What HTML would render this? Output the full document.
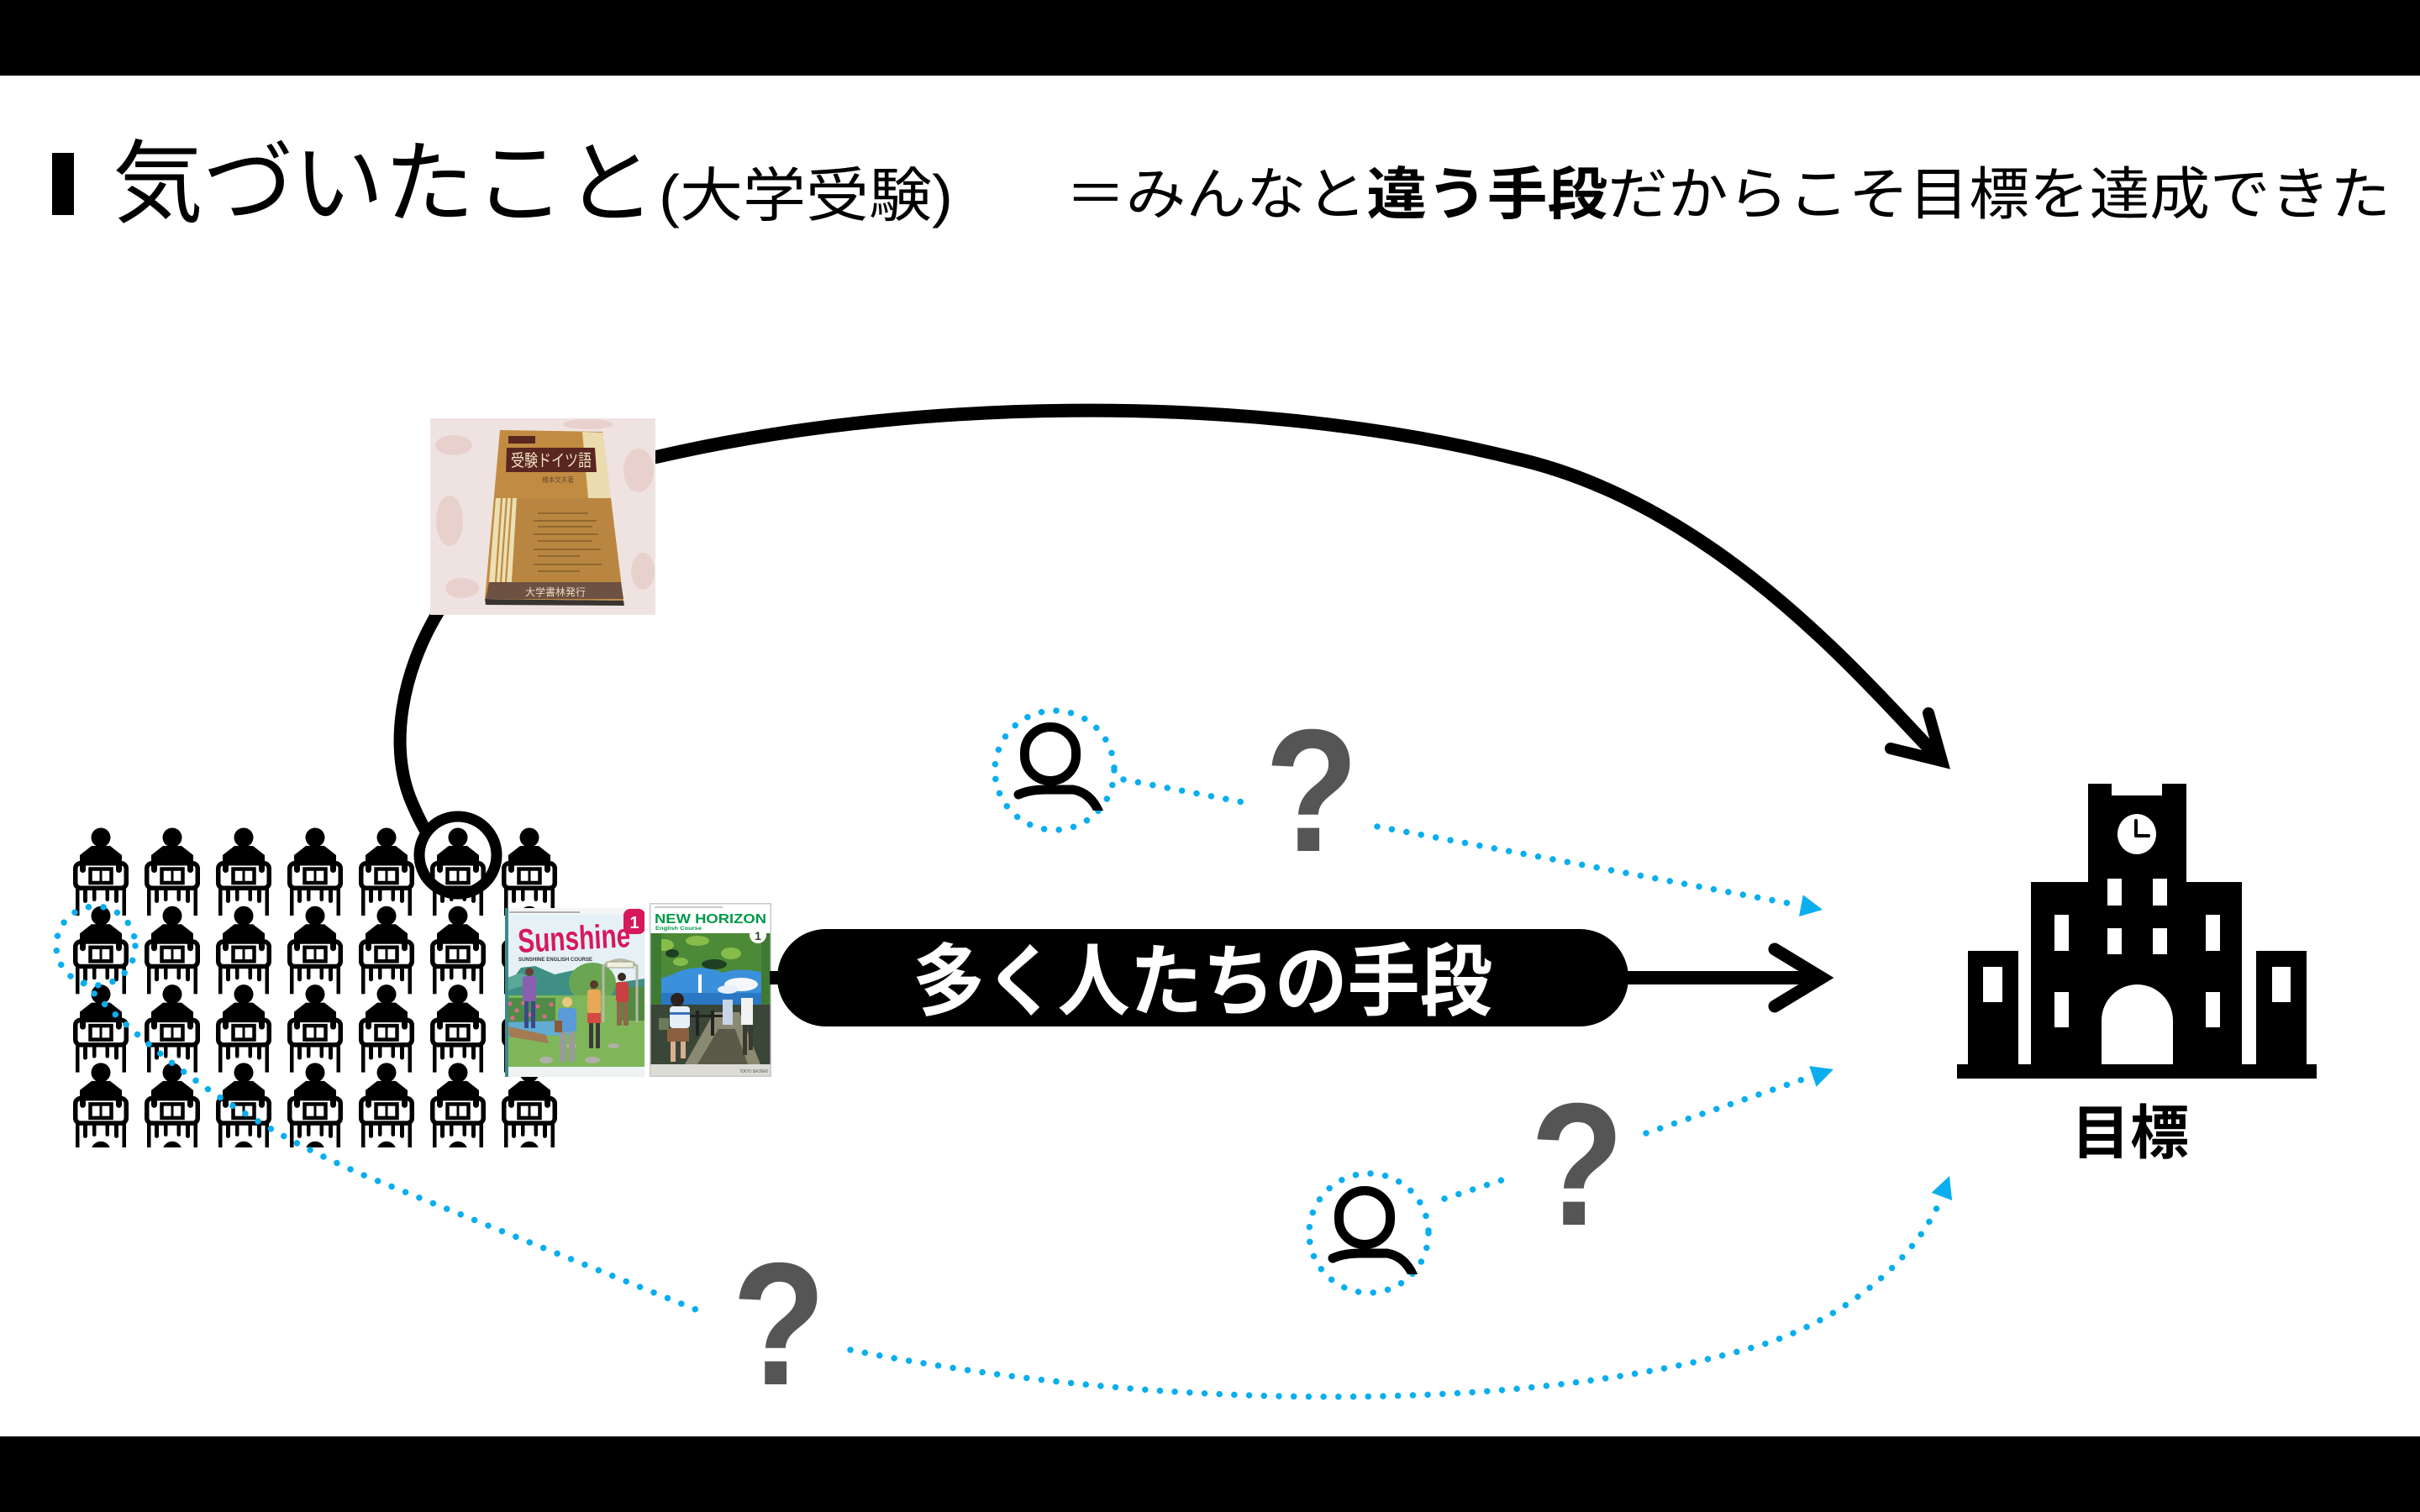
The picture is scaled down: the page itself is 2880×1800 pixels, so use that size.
<!DOCTYPE html>
<html><head><meta charset="utf-8">
<style>html,body{margin:0;padding:0;background:#fff;}svg{display:block}</style>
</head>
<body>
<svg width="2880" height="1800" viewBox="0 0 2880 1800" xmlns="http://www.w3.org/2000/svg" font-family="'Liberation Sans','Noto Sans CJK JP',sans-serif">
<defs>
  <g id="p">
    <circle cx="0" cy="0" r="11.5"/>
    <path d="M-11,10 H11 L25,21 V31 H-25 V21 Z"/>
    <rect x="-30.25" y="30.75" width="60.5" height="29.5" rx="6" fill="#fff" stroke="#000" stroke-width="5.5"/>
    <rect x="-25" y="20" width="7" height="22" rx="3.5"/>
    <rect x="18" y="20" width="7" height="22" rx="3.5"/>
    <rect x="-12.5" y="37.5" width="25" height="16.5" fill="none" stroke="#000" stroke-width="4.5"/>
    <rect x="-1.5" y="37" width="3" height="17"/>
    <rect x="-30" y="60" width="4.5" height="33"/>
    <rect x="25.5" y="60" width="4.5" height="33"/>
    <rect x="-21" y="60" width="5" height="18" rx="2.5"/>
    <rect x="-10" y="60" width="4.5" height="16" rx="2.2"/>
    <rect x="5.5" y="60" width="4.5" height="16" rx="2.2"/>
    <rect x="16" y="60" width="5" height="18" rx="2.5"/>
  </g>
  <clipPath id="gridclip"><rect x="0" y="0" width="2880" height="1366"/></clipPath>
  <clipPath id="pc1"><rect x="1150" y="800" width="200" height="165"/></clipPath>
  <clipPath id="sunclip"><rect x="601" y="1081" width="166" height="201"/></clipPath>
  <clipPath id="nhclip"><rect x="773" y="1075" width="145" height="207"/></clipPath>
  <clipPath id="bookclip"><rect x="512" y="498" width="268" height="234"/></clipPath>
</defs>

<rect width="2880" height="1800" fill="#fff"/>
<rect x="0" y="0" width="2880" height="90" fill="#000"/>
<rect x="0" y="1710" width="2880" height="90" fill="#000"/>

<!-- Title -->
<rect x="62" y="182" width="26" height="74" fill="#000"/>
<text x="134" y="256" font-size="108" textLength="646" lengthAdjust="spacingAndGlyphs" fill="#000">気づいたこと</text>
<text x="784" y="257" font-size="70" textLength="350" lengthAdjust="spacingAndGlyphs" fill="#000">(大学受験)</text>
<text x="1268" y="255" font-size="68" textLength="1577" lengthAdjust="spacingAndGlyphs" fill="#000">＝みんなと<tspan font-weight="bold">違う手段</tspan>だからこそ目標を達成できた</text>

<!-- People grid -->
<g clip-path="url(#gridclip)" fill="#000">
  <use href="#p" x="120" y="997"/><use href="#p" x="205" y="997"/><use href="#p" x="290" y="997"/><use href="#p" x="375" y="997"/><use href="#p" x="460" y="997"/><use href="#p" x="545" y="997"/><use href="#p" x="630" y="997"/>
  <use href="#p" x="120" y="1090.3"/><use href="#p" x="205" y="1090.3"/><use href="#p" x="290" y="1090.3"/><use href="#p" x="375" y="1090.3"/><use href="#p" x="460" y="1090.3"/><use href="#p" x="545" y="1090.3"/><use href="#p" x="630" y="1090.3"/>
  <use href="#p" x="120" y="1183.6"/><use href="#p" x="205" y="1183.6"/><use href="#p" x="290" y="1183.6"/><use href="#p" x="375" y="1183.6"/><use href="#p" x="460" y="1183.6"/><use href="#p" x="545" y="1183.6"/><use href="#p" x="630" y="1183.6"/>
  <use href="#p" x="120" y="1276.9"/><use href="#p" x="205" y="1276.9"/><use href="#p" x="290" y="1276.9"/><use href="#p" x="375" y="1276.9"/><use href="#p" x="460" y="1276.9"/><use href="#p" x="545" y="1276.9"/><use href="#p" x="630" y="1276.9"/>
  <use href="#p" x="120" y="1370.2"/><use href="#p" x="205" y="1370.2"/><use href="#p" x="290" y="1370.2"/><use href="#p" x="375" y="1370.2"/><use href="#p" x="460" y="1370.2"/><use href="#p" x="545" y="1370.2"/><use href="#p" x="630" y="1370.2"/>
</g>

<!-- Blue dotted: grid circle + long bottom curve -->
<g fill="none" stroke="#0aaeef" stroke-width="7.5" stroke-linecap="round" stroke-dasharray="0.01 17.7">
  <circle cx="114" cy="1126" r="47"/>
  <path d="M100,1170 C160,1235 270,1330 440,1402 L838,1563"/>
  <path d="M1012,1607 C1350,1675 1800,1690 2100,1600 C2220,1560 2290,1480 2311,1424"/>
  <path d="M1639,984 L2143,1078"/>
  <path d="M1959,1349 L2157,1281"/>
  <path d="M1337,928 L1479,955"/>
  <path d="M1719,1427 L1790,1404"/>
  <circle cx="1255" cy="917" r="71"/>
  <circle cx="1629" cy="1468" r="71"/>
</g>
<g fill="#0aaeef">
  <polygon points="2169,1083 2145.8,1065.4 2141,1091"/>
  <polygon points="2182,1273 2161.6,1293.7 2153.2,1269.1"/>
  <polygon points="2320,1400 2323.1,1429 2298.7,1419.9"/>
</g>

<!-- Person outline icons -->
<g fill="none" stroke="#000" stroke-width="11" stroke-linecap="round">
  <g clip-path="url(#pc1)">
    <rect x="1219.5" y="865.5" width="61" height="64" rx="30.5" ry="30"/>
    <path d="M1212,946 Q1225,940 1245,940 L1277,940 Q1300,944 1310,972"/>
  </g>
  <g transform="translate(374,552)">
    <g clip-path="url(#pc1)">
      <rect x="1219.5" y="865.5" width="61" height="64" rx="30.5" ry="30"/>
      <path d="M1212,946 Q1225,940 1245,940 L1277,940 Q1300,944 1310,972"/>
    </g>
  </g>
</g>

<!-- Black curves -->
<g fill="none" stroke="#000" stroke-linecap="round">
  <path d="M781,544 C1100,470 1500,470 1800,545 C2050,600 2235,830 2308,903" stroke-width="16"/>
  <path d="M2295,849 L2311,906 L2250,891" stroke-width="14" stroke-linejoin="miter"/>
  <path d="M522,728 C478,800 462,890 490,955 Q497,972 506,988" stroke-width="15"/>
  <circle cx="545" cy="1018" r="46" stroke-width="13"/>
</g>

<!-- Book 1 photo -->
<g clip-path="url(#bookclip)">
  <rect x="512" y="498" width="268" height="234" fill="#efe3e1"/>
  <g fill="#e6c9c5" opacity="0.7">
    <ellipse cx="540" cy="530" rx="22" ry="12"/>
    <ellipse cx="760" cy="560" rx="18" ry="26"/>
    <ellipse cx="535" cy="620" rx="16" ry="30"/>
    <ellipse cx="765" cy="680" rx="14" ry="22"/>
    <ellipse cx="550" cy="700" rx="20" ry="12"/>
    <ellipse cx="700" cy="505" rx="30" ry="6"/>
  </g>
  <polygon points="577,713 742,715 743,721 578,720" fill="#3a3430"/>
  <polygon points="595,512 717,514 742,715 577,713" fill="#c18c42"/>
  <polygon points="693,514 717,515 727,593 700,593" fill="#eadcae"/>
  <polygon points="590,593 615,593 609,693 582,693" fill="#ecdfb4"/>
  <g stroke="#c18c42" stroke-width="2.2">
    <line x1="597" y1="593" x2="590" y2="693"/>
    <line x1="603" y1="593" x2="596" y2="693"/>
    <line x1="609" y1="593" x2="602" y2="693"/>
  </g>
  <polygon points="615,593 727,593 739,693 609,693" fill="#b98641"/>
  <g stroke="#7a5528" stroke-width="1.2">
    <line x1="640" y1="611" x2="700" y2="611"/>
    <line x1="635" y1="620" x2="710" y2="620"/>
    <line x1="640" y1="627" x2="705" y2="627"/>
    <line x1="635" y1="636" x2="712" y2="636"/>
    <line x1="640" y1="644" x2="705" y2="644"/>
    <line x1="635" y1="654" x2="715" y2="654"/>
    <line x1="640" y1="662" x2="690" y2="662"/>
    <line x1="635" y1="672" x2="716" y2="672"/>
    <line x1="640" y1="680" x2="690" y2="680"/>
  </g>
  <polygon points="582,693 739,693 742,713 578,713" fill="#6d5142"/>
  <text x="661" y="709" font-size="12" fill="#eadcc0" text-anchor="middle" textLength="72" lengthAdjust="spacingAndGlyphs">大学書林発行</text>
  <polygon points="603,533 708,533 710,562 602,562" fill="#5a2620"/>
  <text x="656" y="555" font-size="20" fill="#f0e2c4" text-anchor="middle" textLength="96" lengthAdjust="spacingAndGlyphs">受験ドイツ語</text>
  <rect x="605" y="519" width="32" height="9" fill="#5a2620"/>
  <text x="645" y="574" font-size="8" fill="#6a4a30" textLength="38" lengthAdjust="spacingAndGlyphs">橋本文夫著</text>
</g>

<!-- Sunshine book -->
<g clip-path="url(#sunclip)">
  <rect x="601" y="1081" width="166" height="201" fill="#e5f1f5"/>
  <rect x="601" y="1081" width="166" height="8" fill="#f4f6f6"/>
  <line x1="606" y1="1086" x2="690" y2="1086" stroke="#999" stroke-width="1.5"/>
  <path d="M601,1178 L620,1152 L637,1150 L660,1160 L683,1155 L705,1162 L733,1170 L767,1165 L767,1200 L601,1200 Z" fill="#3f8f86"/>
  <path d="M601,1165 L620,1158 L640,1168 L601,1180 Z" fill="#5aa898"/>
  <ellipse cx="705" cy="1170" rx="28" ry="24" fill="#6aa652"/>
  <rect x="703" y="1170" width="5" height="40" fill="#8a7050"/>
  <rect x="601" y="1185" width="166" height="97" fill="#7fb65a"/>
  <rect x="601" y="1188" width="60" height="32" fill="#4f8c48"/>
  <g fill="#e26a8c">
    <circle cx="607" cy="1195" r="2.5"/><circle cx="615" cy="1203" r="2.5"/><circle cx="623" cy="1194" r="2.5"/><circle cx="630" cy="1208" r="2.5"/><circle cx="640" cy="1198" r="2.5"/><circle cx="648" cy="1210" r="2.5"/><circle cx="656" cy="1196" r="2.5"/><circle cx="610" cy="1212" r="2.5"/><circle cx="635" cy="1215" r="2.5"/>
  </g>
  <path d="M601,1217 L677,1215 L680,1232 L601,1235 Z" fill="#62acd4"/>
  <polygon points="605,1222 650,1232 653,1242 606,1234" fill="#a37a52"/>
  <rect x="740" y="1175" width="27" height="40" fill="#4f8a3e"/>
  <path d="M718,1217 L718,1150 Q738,1135 758,1150 L758,1217" fill="none" stroke="#b8b8a8" stroke-width="3"/>
  <rect x="722" y="1145" width="32" height="7" fill="#f0f0e0" stroke="#9a9a80" stroke-width="1"/>
  <g fill="#b0b0a8">
    <ellipse cx="650" cy="1262" rx="8" ry="4"/><ellipse cx="705" cy="1262" rx="9" ry="4"/><ellipse cx="730" cy="1245" rx="7" ry="3"/><ellipse cx="680" cy="1245" rx="6" ry="3"/>
  </g>
  <rect x="622" y="1162" width="16" height="30" rx="4" fill="#8a5fb0"/>
  <circle cx="630" cy="1157" r="5" fill="#6a4030"/>
  <rect x="624" y="1192" width="5" height="32" fill="#3a4a8a"/><rect x="632" y="1192" width="5" height="32" fill="#3a4a8a"/>
  <circle cx="675" cy="1193" r="6" fill="#e8c880"/>
  <rect x="664" y="1200" width="22" height="28" rx="4" fill="#5a9ad8"/>
  <rect x="666" y="1228" width="7" height="36" fill="#9a9a9a"/><rect x="677" y="1228" width="7" height="36" fill="#9a9a9a"/>
  <rect x="660" y="1215" width="9" height="14" fill="#8a5a3a"/>
  <circle cx="707" cy="1172" r="5" fill="#5a3a2a"/>
  <rect x="699" y="1178" width="16" height="28" rx="3" fill="#e8a858"/>
  <rect x="699" y="1206" width="16" height="12" fill="#d44a40"/>
  <rect x="701" y="1218" width="5" height="30" fill="#3a3a3a"/><rect x="709" y="1218" width="5" height="30" fill="#3a3a3a"/>
  <circle cx="740" cy="1163" r="5" fill="#3a2a20"/>
  <rect x="733" y="1169" width="15" height="24" rx="3" fill="#c84040"/>
  <rect x="734" y="1193" width="6" height="28" fill="#8a6a4a"/><rect x="742" y="1193" width="6" height="28" fill="#8a6a4a"/>
  <text transform="translate(617,1134) rotate(-3)" font-size="40" font-weight="bold" fill="#d6195b" textLength="134" lengthAdjust="spacingAndGlyphs">Sunshine</text>
  <text x="617" y="1144" font-size="6.5" font-weight="bold" fill="#333" textLength="88" lengthAdjust="spacingAndGlyphs">SUNSHINE ENGLISH COURSE</text>
  <rect x="742" y="1082" width="26" height="30" rx="8" fill="#d6195b"/>
  <text x="755" y="1105" font-size="20" font-weight="bold" fill="#fff" text-anchor="middle">1</text>
  <rect x="601" y="1270" width="166" height="12" fill="#eef2f2"/>
  <rect x="601" y="1081" width="4" height="201" fill="#3a8a8a"/>
</g>

<!-- New Horizon book -->
<g clip-path="url(#nhclip)">
  <rect x="773" y="1075" width="145" height="207" fill="#fff"/>
  <line x1="779" y1="1080" x2="860" y2="1080" stroke="#aaa" stroke-width="1.2"/>
  <text x="779" y="1099" font-size="15.5" font-weight="bold" fill="#00994a" textLength="133" lengthAdjust="spacingAndGlyphs">NEW HORIZON</text>
  <text x="780" y="1107" font-size="6.5" font-weight="bold" fill="#00994a" textLength="55" lengthAdjust="spacingAndGlyphs">English Course</text>
  <rect x="773" y="1111" width="145" height="156" fill="#2f5a34"/>
  <rect x="773" y="1150" width="145" height="40" fill="#3b90dc"/>
  <rect x="773" y="1182" width="145" height="14" fill="#2a78c4"/>
  <ellipse cx="882" cy="1172" rx="20" ry="8" fill="#f4f8fc"/>
  <ellipse cx="866" cy="1178" rx="12" ry="5" fill="#e8f0f8"/>
  <rect x="831" y="1160" width="4" height="22" fill="#fff"/>
  <path d="M773,1111 H918 V1160 Q880,1150 860,1158 Q830,1145 800,1160 L773,1170 Z" fill="#4c8a38"/>
  <g fill="#86bd4a">
    <ellipse cx="790" cy="1125" rx="12" ry="7"/><ellipse cx="830" cy="1120" rx="14" ry="6"/><ellipse cx="870" cy="1135" rx="12" ry="7"/><ellipse cx="810" cy="1145" rx="9" ry="5"/>
  </g>
  <g fill="#1f3f22">
    <ellipse cx="850" cy="1148" rx="15" ry="6"/><ellipse cx="800" cy="1135" rx="8" ry="5"/>
  </g>
  <rect x="773" y="1111" width="14" height="110" fill="#3e7a34"/>
  <rect x="906" y="1111" width="12" height="95" fill="#3e7a34"/>
  <path d="M773,1196 H918 V1267 H773 Z" fill="#3a4638"/>
  <path d="M815,1267 L850,1205 L880,1205 L905,1267 Z" fill="#8a8a72"/>
  <path d="M830,1267 L855,1225 L875,1225 L890,1267 Z" fill="#5a5a48"/>
  <rect x="828" y="1203" width="4" height="30" fill="#222"/><rect x="846" y="1203" width="4" height="30" fill="#222"/>
  <rect x="820" y="1208" width="45" height="3" fill="#222"/>
  <circle cx="806" cy="1190" r="8" fill="#2a2220"/>
  <rect x="797" y="1198" width="24" height="26" rx="4" fill="#e6eef8"/>
  <rect x="797" y="1205" width="24" height="3" fill="#3a70b8"/>
  <rect x="794" y="1224" width="26" height="16" fill="#8a6040"/>
  <rect x="784" y="1212" width="12" height="14" fill="#6a7a5a"/>
  <rect x="798" y="1240" width="6" height="24" fill="#d8b090"/><rect x="810" y="1240" width="6" height="20" fill="#d8b090"/>
  <rect x="860" y="1190" width="12" height="30" fill="#c8d4e8"/>
  <rect x="882" y="1188" width="14" height="32" fill="#f2f2f2"/>
  <rect x="884" y="1220" width="5" height="36" fill="#3a3a30"/><rect x="891" y="1220" width="5" height="30" fill="#3a3a30"/>
  <circle cx="902" cy="1113" r="10" fill="#fff"/>
  <text x="902" y="1119" font-size="14" font-weight="bold" fill="#2a4a2a" text-anchor="middle">1</text>
  <rect x="773" y="1267" width="145" height="15" fill="#dcdcd4"/>
  <text x="880" y="1277" font-size="5.5" fill="#555" textLength="34" lengthAdjust="spacingAndGlyphs">TOKYO SHOSEKI</text>
  <rect x="773.75" y="1075.75" width="143.5" height="205.5" fill="none" stroke="#c8c8c8" stroke-width="1.5"/>
</g>

<!-- Main line and pill -->
<line x1="916" y1="1164" x2="2170" y2="1164" stroke="#000" stroke-width="16"/>
<path d="M2112,1130 L2168,1164 L2112,1198" fill="none" stroke="#000" stroke-width="15" stroke-linecap="round" stroke-linejoin="miter"/>
<rect x="925" y="1106" width="1013" height="116" rx="58" ry="58" fill="#000"/>
<text x="1431" y="1201" font-size="94" font-weight="bold" fill="#fff" text-anchor="middle" textLength="690" lengthAdjust="spacingAndGlyphs">多く人たちの手段</text>

<!-- Building -->
<g fill="#000">
  <rect x="2329" y="1267" width="428" height="17"/>
  <rect x="2342" y="1132" width="60" height="136"/>
  <rect x="2685" y="1132" width="60" height="136"/>
  <rect x="2417" y="1050" width="251" height="218"/>
  <path d="M2485,933 H2513 V947 H2573 V933 H2602 V1051 H2485 Z"/>
</g>
<g fill="#fff">
  <rect x="2360" y="1151" width="23" height="42"/>
  <rect x="2704" y="1151" width="22" height="42"/>
  <rect x="2508" y="1046" width="17" height="32"/>
  <rect x="2562" y="1046" width="17" height="32"/>
  <rect x="2508" y="1105" width="17" height="31"/>
  <rect x="2562" y="1105" width="17" height="31"/>
  <rect x="2445" y="1089" width="17" height="43"/>
  <rect x="2625" y="1089" width="17" height="43"/>
  <rect x="2445" y="1181" width="17" height="42"/>
  <rect x="2625" y="1181" width="17" height="42"/>
  <path d="M2501,1267 V1215 A42.5,43 0 0 1 2586,1215 V1267 Z"/>
  <ellipse cx="2543" cy="993" rx="23" ry="24"/>
</g>
<path d="M2542,977 V995 H2557" fill="none" stroke="#000" stroke-width="4" stroke-linecap="round" stroke-linejoin="round"/>
<text x="2535" y="1373" font-size="70" font-weight="bold" text-anchor="middle" fill="#000">目標</text>

<!-- Question marks -->
<g font-family="'Liberation Sans',sans-serif" font-weight="bold" font-size="208" fill="#555">
  <text transform="translate(1561,1013) scale(0.88,1)" text-anchor="middle">?</text>
  <text transform="translate(1877,1458) scale(0.88,1)" text-anchor="middle">?</text>
  <text transform="translate(927,1648) scale(0.88,1)" text-anchor="middle">?</text>
</g>
</svg>
</body></html>
